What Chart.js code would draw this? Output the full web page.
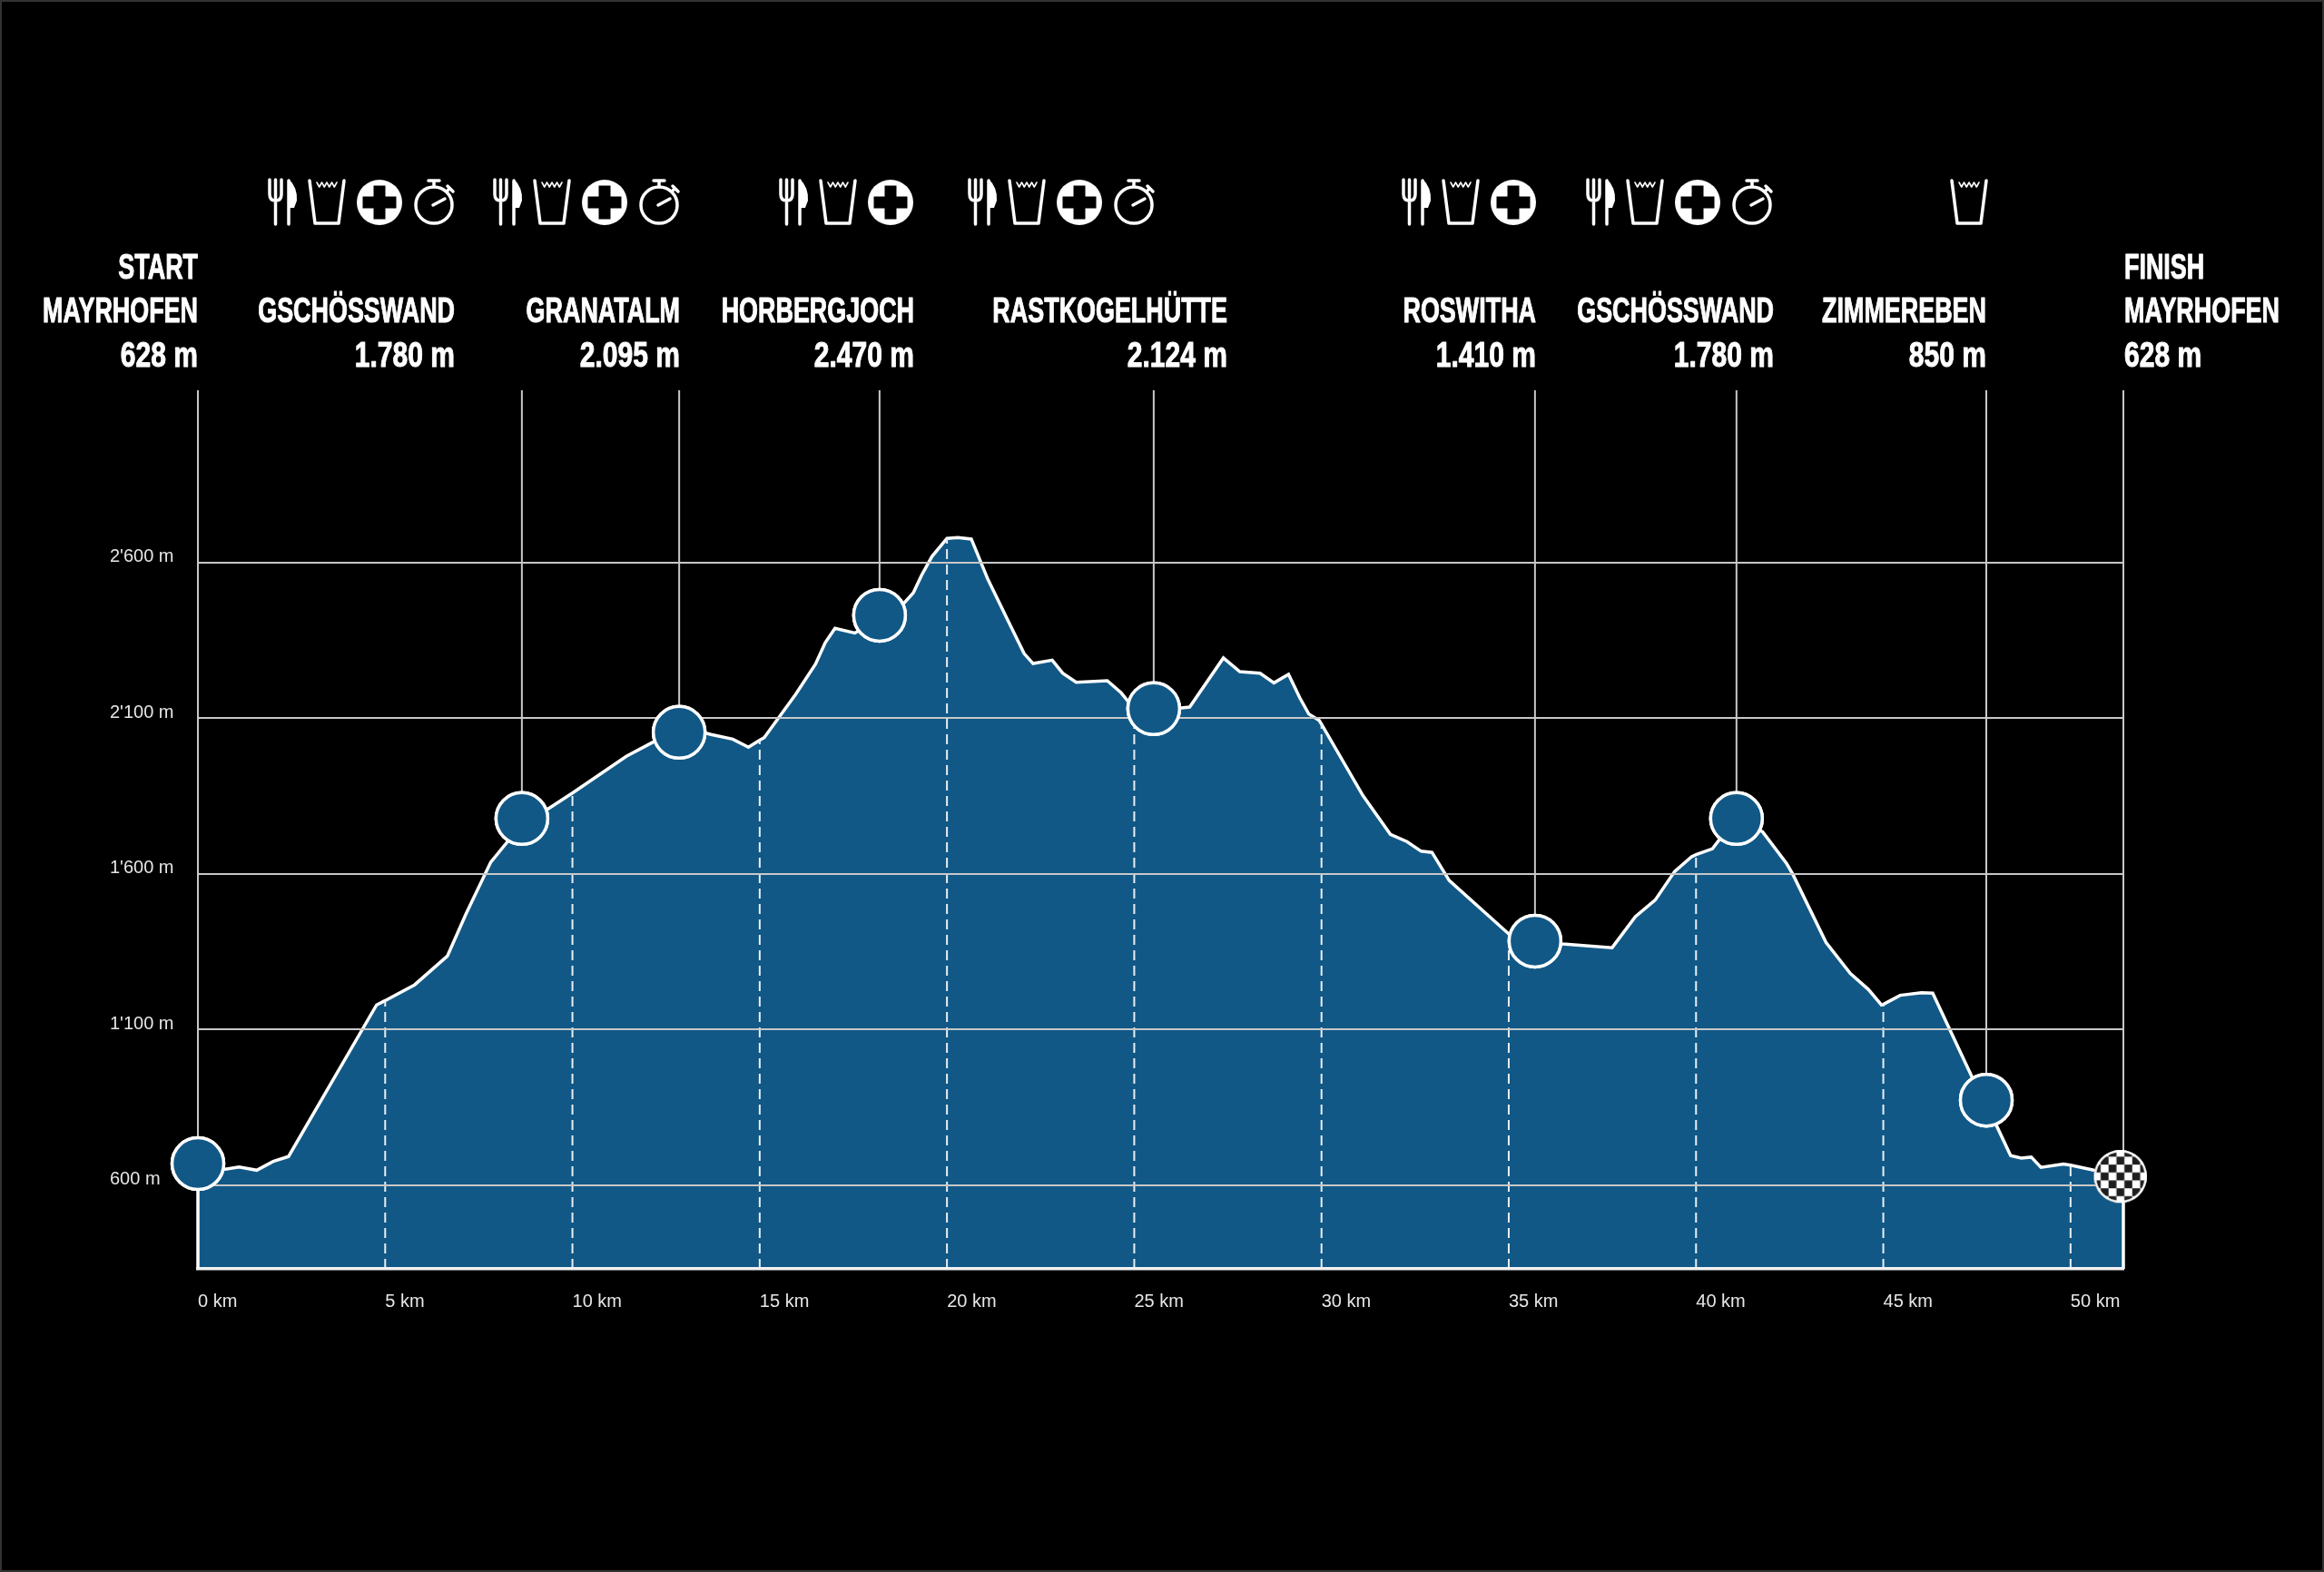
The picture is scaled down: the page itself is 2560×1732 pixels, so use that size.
<!DOCTYPE html>
<html>
<head>
<meta charset="utf-8">
<title>Streckenprofil</title>
<script src="https://cdn.jsdelivr.net/npm/chart.js@4"></script>
<style>
    html, body { margin: 0; padding: 0; background: #000; }
    canvas { display: block; outline: 2px solid #333; outline-offset: -2px; }
</style>
</head>
<body>
<canvas id="profile" width="2560" height="1732"></canvas>
<script>
// course profile
const profileKm = [0, 0.73, 1.1, 1.57, 2.01, 2.42, 4.77, 5, 5.79, 6.66, 7.16, 7.82, 8.65, 9.34, 10, 11.44, 12.13, 12.85, 13.7, 14.28, 14.7, 15, 15.12, 15.96, 16.49, 16.75, 17.01, 17.54, 18.2, 18.86, 19.1, 19.32, 19.6, 20, 20.29, 20.65, 21.09, 21.62, 22.06, 22.3, 22.81, 23.09, 23.45, 24.28, 24.65, 24.81, 25, 25.62, 26.26, 26.48, 27.38, 27.82, 28.36, 28.73, 29.12, 29.42, 29.66, 29.94, 30, 31.11, 31.84, 32.28, 32.66, 32.95, 33.41, 35, 35.7, 36.44, 37.76, 38.38, 38.91, 39.43, 39.88, 40, 40.44, 41.08, 41.78, 42.42, 42.58, 43.47, 44.12, 44.6, 44.95, 45, 45.45, 46.02, 46.32, 47.35, 48.04, 48.4, 48.68, 48.95, 49.21, 49.81, 50, 50.62, 51.41];
const profileElevation = [669, 651, 658, 648, 676, 692, 1179, 1193, 1244, 1336, 1472, 1638, 1760, 1808, 1860, 1978, 2022, 2075, 2048, 2033, 2007, 2030, 2038, 2177, 2274, 2343, 2389, 2374, 2419, 2471, 2503, 2559, 2620, 2678, 2681, 2676, 2547, 2416, 2308, 2276, 2287, 2245, 2216, 2221, 2182, 2158, 2128, 2119, 2133, 2136, 2294, 2250, 2245, 2214, 2241, 2166, 2114, 2093, 2081, 1851, 1727, 1704, 1673, 1669, 1579, 1407, 1384, 1375, 1363, 1463, 1516, 1608, 1655, 1662, 1681, 1783, 1735, 1633, 1600, 1380, 1280, 1229, 1179, 1181, 1210, 1218, 1217, 952, 787, 695, 687, 690, 657, 668, 664, 648, 631];

// stations (the last one is the finish marker)
const stationKm = [0, 8.65, 12.85, 18.2, 25.52, 35.7, 41.08, 47.75, 51.33];
const stationElevation = [669, 1778, 2055, 2431, 2131, 1384, 1778, 873, 628];
const stationNames = ['MAYRHOFEN', 'GSCHÖSSWAND', 'GRANATALM', 'HORBERGJOCH', 'RASTKOGELHÜTTE', 'ROSWITHA', 'GSCHÖSSWAND', 'ZIMMEREBEN', 'MAYRHOFEN'];
const stationHeights = ['628 m', '1.780 m', '2.095 m', '2.470 m', '2.124 m', '1.410 m', '1.780 m', '850 m', '628 m'];
const stationServices = [[], ['food', 'drink', 'aid', 'time'], ['food', 'drink', 'aid', 'time'], ['food', 'drink', 'aid'], ['food', 'drink', 'aid', 'time'], ['food', 'drink', 'aid'], ['food', 'drink', 'aid', 'time'], ['drink'], []];

const xTickValues = [0, 5, 10, 15, 20, 25, 30, 35, 40, 45, 50];
const yTickValues = [600, 1100, 1600, 2100, 2600];
const yTickLabels = ['600 m', "1'100 m", "1'600 m", "2'100 m", "2'600 m"];

const KM_MAX = 51.41;
const ELEVATION_MIN = 331;
const ELEVATION_MAX = 3154;

const BLUE = '#115886';
const HEAD_FONT = 'bold 39px "Liberation Sans", sans-serif';
const TICK_FONT = '"Liberation Sans", sans-serif';

// page layout of the header block
const labelRight = [218, 501, 749, 1007, 1352, 1692, 1954, 2188];
const finishLeft = 2340;
const iconCentre = [0, 418, 666, 981, 1189, 1667, 1870, 2227, 0];
const rowY = [307, 355, 404];

// checker pattern for the finish marker
function checkerCanvas() {
    const c = document.createElement('canvas');
    c.width = 60;
    c.height = 60;
    const g = c.getContext('2d');
    g.beginPath();
    g.arc(30, 30, 29, 0, Math.PI * 2);
    g.clip();
    g.fillStyle = '#fff';
    g.fillRect(0, 0, 60, 60);
    g.fillStyle = '#1e1e1e';
    const cell = 8.7;
    for (let i = 0; i < 7; i++) {
        for (let j = 0; j < 7; j++) {
            if ((i + j) % 2 === 0) g.fillRect(i * cell - 0.45, j * cell - 0.45, cell, cell);
        }
    }
    g.beginPath();
    g.arc(30, 30, 28.5, 0, Math.PI * 2);
    g.strokeStyle = '#fff';
    g.lineWidth = 3.5;
    g.stroke();
    return c;
}

function drawFork(ctx, x) {
    ctx.beginPath();
    ctx.moveTo(x, 198);
    ctx.lineTo(x, 214);
    ctx.quadraticCurveTo(x, 221, x + 6.5, 221);
    ctx.quadraticCurveTo(x + 13, 221, x + 13, 214);
    ctx.lineTo(x + 13, 198);
    ctx.moveTo(x + 6.5, 198);
    ctx.lineTo(x + 6.5, 247);
    ctx.moveTo(x + 21, 199);
    ctx.lineTo(x + 21, 247);
    ctx.stroke();
    ctx.beginPath();
    ctx.moveTo(x + 21, 197);
    ctx.quadraticCurveTo(x + 31, 207, x + 30, 221);
    ctx.lineTo(x + 27, 229);
    ctx.lineTo(x + 21, 229);
    ctx.closePath();
    ctx.fill();
}

function drawGlass(ctx, x) {
    ctx.beginPath();
    ctx.moveTo(x, 199);
    ctx.lineTo(x + 6, 246);
    ctx.lineTo(x + 32, 246);
    ctx.lineTo(x + 38, 199);
    ctx.stroke();
    ctx.save();
    ctx.lineWidth = 1.6;
    ctx.beginPath();
    for (let i = 0; i <= 8; i++) {
        const wx = x + 8 + i * 2.75;
        if (i === 0) ctx.moveTo(wx, 201);
        else ctx.lineTo(wx, i % 2 ? 206 : 201);
    }
    ctx.stroke();
    ctx.restore();
}

function drawAid(ctx, cx) {
    ctx.beginPath();
    ctx.arc(cx, 223, 25, 0, Math.PI * 2);
    ctx.fill();
    ctx.save();
    ctx.fillStyle = '#000';
    ctx.fillRect(cx - 18.5, 216.5, 37, 13);
    ctx.fillRect(cx - 6.5, 204.5, 13, 37);
    ctx.restore();
}

function drawWatch(ctx, cx) {
    ctx.beginPath();
    ctx.arc(cx, 226, 20, 0, Math.PI * 2);
    ctx.moveTo(cx, 205);
    ctx.lineTo(cx, 199);
    ctx.moveTo(cx - 6, 199);
    ctx.lineTo(cx + 6, 199);
    ctx.moveTo(cx + 14, 211);
    ctx.lineTo(cx + 17, 208);
    ctx.moveTo(cx + 15, 205);
    ctx.lineTo(cx + 21, 211);
    ctx.moveTo(cx - 1, 226);
    ctx.lineTo(cx + 12, 219);
    ctx.stroke();
}

function drawHeadText(ctx, text, x, y, align, squeeze) {
    ctx.save();
    ctx.translate(x, y);
    ctx.scale(squeeze, 1);
    ctx.textAlign = align;
    ctx.lineWidth = 1;
    ctx.strokeText(text, 0, 0);
    ctx.fillText(text, 0, 0);
    ctx.restore();
}

// header labels and service icons, markers go back on top of the gridlines
const courseHeader = {
    id: 'courseHeader',
    afterDraw(chart) {
        const ctx = chart.ctx;
        chart.getDatasetMeta(0).data.forEach(p => p.draw(ctx));

        ctx.save();
        ctx.fillStyle = '#fff';
        ctx.strokeStyle = '#fff';
        ctx.lineWidth = 3.5;
        ctx.lineCap = 'round';
        ctx.lineJoin = 'round';
        ctx.textBaseline = 'alphabetic';
        ctx.font = HEAD_FONT;

        // no condensed face on the machine, so squeeze the bold sans
        const nameSqueeze = 0.69;
        const heightSqueeze = 0.77;
        drawHeadText(ctx, 'START', labelRight[0], rowY[0], 'right', nameSqueeze);
        drawHeadText(ctx, 'FINISH', finishLeft, rowY[0], 'left', nameSqueeze);
        stationNames.forEach((name, i) => {
            const last = i === stationNames.length - 1;
            const x = last ? finishLeft : labelRight[i];
            const align = last ? 'left' : 'right';
            drawHeadText(ctx, name, x, rowY[1], align, nameSqueeze);
            drawHeadText(ctx, stationHeights[i], x, rowY[2], align, heightSqueeze);
        });

        stationServices.forEach((list, i) => {
            const cx = iconCentre[i];
            list.forEach(kind => {
                if (kind === 'food') drawFork(ctx, cx - 121);
                if (kind === 'drink') drawGlass(ctx, cx - 77);
                if (kind === 'aid') drawAid(ctx, cx);
                if (kind === 'time') drawWatch(ctx, cx + 60);
            });
        });
        ctx.restore();
    }
};

document.addEventListener('DOMContentLoaded', function() {
    const profilePoints = profileKm.map((km, i) => ({ x: km, y: profileElevation[i] }));
    // start and end on the plot floor so the side edges get the white outline too
    const outline = [{ x: 0, y: ELEVATION_MIN }].concat(profilePoints, [{ x: KM_MAX, y: ELEVATION_MIN }]);

    // dashed drop from the axis up to the profile, one per km tick
    const drops = [];
    xTickValues.slice(1).forEach(km => {
        drops.push({ x: km, y: ELEVATION_MIN });
        drops.push({ x: km, y: profileElevation[profileKm.indexOf(km)] });
        drops.push({ x: km, y: null });
    });

    // thin line from the top of the plot down to each station
    const lines = [];
    stationKm.forEach((km, i) => {
        const x = i === stationKm.length - 1 ? KM_MAX : km;
        lines.push({ x: x, y: ELEVATION_MAX });
        lines.push({ x: x, y: stationElevation[i] });
        lines.push({ x: x, y: null });
    });

    const markers = stationKm.map((km, i) => ({ x: km, y: stationElevation[i] }));
    const checker = checkerCanvas();

    new Chart(document.getElementById('profile').getContext('2d'), {
        type: 'line',
        data: {
            datasets: [
                {
                    label: 'Stations',
                    data: markers,
                    order: 0,
                    showLine: false,
                    clip: false,
                    pointRadius: 28.5,
                    pointBorderWidth: 3.5,
                    pointBorderColor: '#fff',
                    pointBackgroundColor: BLUE,
                    pointStyle: markers.map((m, i) => i === markers.length - 1 ? checker : 'circle')
                },
                {
                    label: 'Km marks',
                    data: drops,
                    order: 1,
                    borderColor: '#e8eef2',
                    borderWidth: 2,
                    borderDash: [11, 6],
                    pointRadius: 0,
                    spanGaps: false
                },
                {
                    label: 'Elevation',
                    data: outline,
                    order: 2,
                    clip: false,
                    fill: 'start',
                    backgroundColor: BLUE,
                    borderColor: '#fff',
                    borderWidth: 3.5,
                    borderJoinStyle: 'miter',
                    pointRadius: 0,
                    tension: 0
                },
                {
                    label: 'Station lines',
                    data: lines,
                    order: 3,
                    clip: false,
                    borderColor: '#c8c8c8',
                    borderWidth: 2,
                    pointRadius: 0,
                    spanGaps: false
                }
            ]
        },
        options: {
            responsive: false,
            animation: false,
            devicePixelRatio: 1,
            layout: { padding: { left: 121, right: 221, top: 430, bottom: 274 } },
            plugins: { legend: { display: false }, tooltip: { enabled: false } },
            scales: {
                x: {
                    type: 'linear',
                    min: 0,
                    max: KM_MAX,
                    afterFit: scale => { scale.height = 60; },
                    afterBuildTicks: scale => { scale.ticks = xTickValues.map(v => ({ value: v })); },
                    grid: { display: false },
                    border: { display: true, color: '#f2f2f2', width: 3.5, z: 1 },
                    ticks: {
                        align: 'start',
                        autoSkip: false,
                        maxRotation: 0,
                        padding: 16,
                        color: '#e6e6e6',
                        font: { family: TICK_FONT, size: 20 },
                        callback: v => v + ' km'
                    }
                },
                y: {
                    min: ELEVATION_MIN,
                    max: ELEVATION_MAX,
                    afterFit: scale => { scale.width = 97; },
                    afterBuildTicks: scale => { scale.ticks = yTickValues.map(v => ({ value: v })); },
                    grid: { color: '#c8c8c8', lineWidth: 2, drawTicks: false, z: 1 },
                    border: { display: false },
                    ticks: {
                        crossAlign: 'far',
                        autoSkip: false,
                        labelOffset: -6,
                        padding: 0,
                        color: '#e6e6e6',
                        font: { family: TICK_FONT, size: 20 },
                        callback: v => yTickLabels[yTickValues.indexOf(v)]
                    }
                }
            }
        },
        plugins: [courseHeader]
    });
});
</script>
</body>
</html>
